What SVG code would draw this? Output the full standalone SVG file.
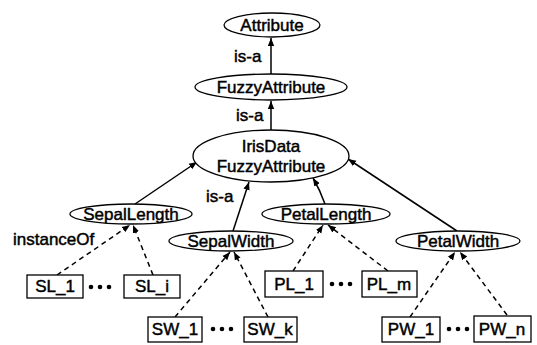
<svg xmlns="http://www.w3.org/2000/svg" width="537" height="345" viewBox="0 0 537 345">
<style>
.n ellipse, .n rect { fill: #fff; stroke: #000; stroke-width: 1.3; }
text { font-family: "Liberation Sans", Arial, sans-serif; font-size: 17px; font-weight: normal; fill: #000; stroke: #000; stroke-width: 0.45; text-anchor: middle; }
.lbl { text-anchor: start; }
.s { stroke: #000; stroke-width: 1.5; fill: none; marker-end: url(#ah); }
.d { stroke: #000; stroke-width: 1.5; fill: none; stroke-dasharray: 5 4; marker-end: url(#ah); }
.dot { fill: #000; }
</style>
<defs>
<marker id="ah" viewBox="0 0 10 10" refX="10" refY="5" markerWidth="8" markerHeight="8" markerUnits="userSpaceOnUse" orient="auto">
<path d="M0,1 L10,5 L0,9 Z" fill="#000"/>
</marker>
</defs>
<g id="connectors">
<line class="s" x1="271" y1="74" x2="271" y2="38"/>
<line class="s" x1="271" y1="130" x2="271" y2="101"/>
<line class="s" x1="135" y1="204" x2="197" y2="162"/>
<line class="s" x1="233" y1="231" x2="249" y2="182"/>
<path class="s" d="M325,204 Q320,190 313,178"/>
<line class="s" x1="457" y1="231" x2="348" y2="159"/>
<line class="d" x1="57" y1="275" x2="130" y2="225"/>
<line class="d" x1="153" y1="275" x2="133" y2="225"/>
<line class="d" x1="175" y1="317" x2="230" y2="252"/>
<line class="d" x1="268" y1="317" x2="234" y2="252"/>
<line class="d" x1="293" y1="271" x2="323" y2="225"/>
<line class="d" x1="388" y1="271" x2="328" y2="225"/>
<line class="d" x1="410" y1="317" x2="455" y2="252"/>
<line class="d" x1="507" y1="315" x2="460" y2="252"/>
<text class="lbl" x="234" y="62">is-a</text>
<text class="lbl" x="236" y="121">is-a</text>
<text class="lbl" x="206" y="202">is-a</text>
<text class="lbl" x="13" y="245">instanceOf</text>
</g>
<g id="Attribute" class="n"><ellipse cx="272" cy="25" rx="48" ry="12"/><text x="272" y="31">Attribute</text></g>
<g id="FuzzyAttribute" class="n"><ellipse cx="271" cy="87" rx="76" ry="13"/><text x="271" y="93">FuzzyAttribute</text></g>
<g id="IrisDataFuzzyAttribute" class="n"><ellipse cx="271" cy="156" rx="78" ry="26"/><text x="271" y="152">IrisData</text><text x="271" y="172">FuzzyAttribute</text></g>
<g id="SepalLength" class="n"><ellipse cx="131" cy="214" rx="61" ry="10"/><text x="131" y="220">SepalLength</text></g>
<g id="SepalWidth" class="n"><ellipse cx="231" cy="241" rx="62" ry="10"/><text x="231" y="247">SepalWidth</text></g>
<g id="PetalLength" class="n"><ellipse cx="326" cy="214" rx="64" ry="10"/><text x="326" y="220">PetalLength</text></g>
<g id="PetalWidth" class="n"><ellipse cx="458" cy="241" rx="62" ry="10"/><text x="458" y="247">PetalWidth</text></g>
<g id="SL_1" class="n"><rect x="27" y="275" width="56" height="23"/><text x="55" y="292">SL_1</text></g>
<g id="SL_i" class="n"><rect x="124" y="275" width="56" height="23"/><text x="152" y="292">SL_i</text></g>
<g id="SW_1" class="n"><rect x="148" y="317" width="54" height="25"/><text x="175" y="335">SW_1</text></g>
<g id="SW_k" class="n"><rect x="244" y="317" width="53" height="25"/><text x="270" y="335">SW_k</text></g>
<g id="PL_1" class="n"><rect x="265" y="271" width="58" height="26"/><text x="294" y="290">PL_1</text></g>
<g id="PL_m" class="n"><rect x="362" y="271" width="55" height="26"/><text x="389" y="290">PL_m</text></g>
<g id="PW_1" class="n"><rect x="382" y="317" width="58" height="25"/><text x="411" y="335">PW_1</text></g>
<g id="PW_n" class="n"><rect x="474" y="316" width="57" height="26"/><text x="502" y="335">PW_n</text></g>
<g id="dots">
<circle class="dot" cx="91" cy="287" r="2.3"/><circle class="dot" cx="100" cy="287" r="2.3"/><circle class="dot" cx="109" cy="287" r="2.3"/>
<circle class="dot" cx="213" cy="329" r="2.3"/><circle class="dot" cx="222" cy="329" r="2.3"/><circle class="dot" cx="231" cy="329" r="2.3"/>
<circle class="dot" cx="332" cy="284" r="2.3"/><circle class="dot" cx="341" cy="284" r="2.3"/><circle class="dot" cx="350" cy="284" r="2.3"/>
<circle class="dot" cx="449" cy="329" r="2.3"/><circle class="dot" cx="458" cy="329" r="2.3"/><circle class="dot" cx="467" cy="329" r="2.3"/>
</g>
</svg>
